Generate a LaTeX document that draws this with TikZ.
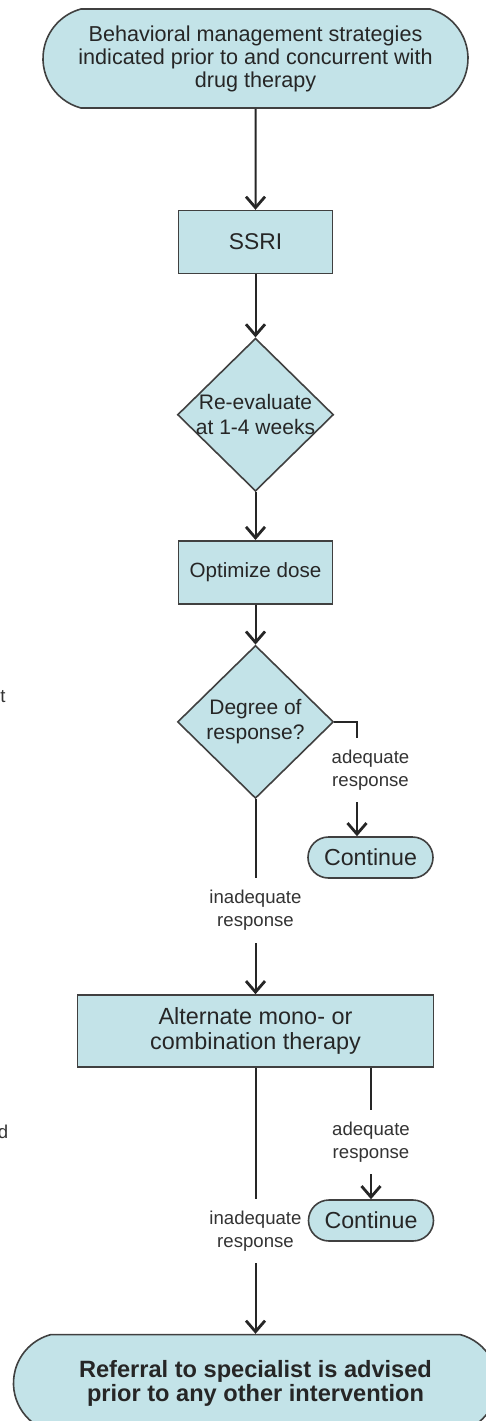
\documentclass[tikz,border=0pt]{standalone}
\usepackage{fontspec}
\setmainfont{Liberation Sans}
\usetikzlibrary{arrows.meta,positioning,shapes.misc,shapes.geometric}
\definecolor{boxfill}{HTML}{C3E3E8}
\definecolor{boxline}{HTML}{404040}

\begin{document}
\begin{tikzpicture}[x=0.5pt,y=-0.5pt,
  box/.style={draw=boxline,fill=boxfill,line width=0.8pt,align=center,inner sep=0pt,text=black!85},
  proc/.style={box,minimum width=77pt,minimum height=31.5pt},
  term/.style={box,rounded rectangle,rounded rectangle arc length=180},
  bigterm/.style={term,rounded rectangle arc length=150},
  decide/.style={box,diamond,minimum width=78pt,minimum height=76.5pt},
  dtext/.style={align=center,text=black!85,font=\fontsize{10.5}{12.5}\selectfont},
  lbl/.style={fill=white,align=center,font=\fontsize{9.3}{11.5}\selectfont,text=black!80,inner xsep=1pt,inner ysep=6pt},
  arr/.style={draw=black!85,line width=1pt,-{Straight Barb[length=5.5pt,width=9.5pt,line width=1.4pt]}}]
\useasboundingbox (0,0) rectangle (486,1421);
% main column
\node[bigterm,minimum width=212.5pt,minimum height=49.5pt,font=\fontsize{10.8}{11.5}\selectfont] (start) at (255.5,58.5) {Behavioral management strategies\\indicated prior to and concurrent with\\drug therapy};
\node[proc,below=50.5pt of start,font=\fontsize{11.4}{13}\selectfont] (ssri) {SSRI};
\node[decide,below=31.5pt of ssri,label={[dtext]center:Re-evaluate\\at 1-4 weeks}] (reval) {};
\node[proc,below=24pt of reval,font=\fontsize{10.3}{12}\selectfont] (optdose) {Optimize dose};
\node[decide,below=20pt of optdose,label={[dtext]center:Degree of\\response?}] (resp) {};
\node[proc,below=97.5pt of resp,minimum width=178pt,minimum height=36pt,font=\fontsize{11.7}{12.5}\selectfont] (alt) {Alternate mono- or\\combination therapy};
\node[bigterm,below=133pt of alt,minimum width=242pt,minimum height=48.5pt,font=\bfseries\fontsize{11.8}{10.8}\selectfont] (refer) {Referral to specialist is advised\\prior to any other intervention};
% side exits
\node[term,minimum width=62.5pt,minimum height=20.5pt,font=\fontsize{11.6}{13}\selectfont] (cont1) at (370.5,857.5) {Continue};
\node[term,minimum width=62.5pt,minimum height=20.5pt,font=\fontsize{11.6}{13}\selectfont] (cont2) at (371,1220.5) {Continue};
% cut-off text at the left edge
\node[font=\fontsize{9.3}{11}\selectfont,anchor=base east,inner sep=0pt,text=black!80] (tfrag) at (6,702) {t};
\node[font=\fontsize{9.3}{11}\selectfont,anchor=base east,inner sep=0pt,text=black!80] (dfrag) at (8.5,1138) {d};
% connectors
\draw[arr] (start) -- (ssri);
\draw[arr] (ssri) -- (reval);
\draw[arr] (reval) -- (optdose);
\draw[arr] (optdose) -- (resp);
\draw[arr] (resp.east) -| ([xshift=-6.75pt]cont1.north) node[lbl,pos=0.71,xshift=6.75pt]{adequate\\response};
\draw[arr] (resp.south) -- (alt.north) node[lbl,pos=0.57]{inadequate\\response};
\draw[arr] (alt.south -| cont2.north) -- (cont2.north) node[lbl,pos=0.563]{adequate\\response};
\draw[arr] (alt.south) -- (refer.north) node[lbl,pos=0.613]{inadequate\\response};
\end{tikzpicture}
\end{document}
